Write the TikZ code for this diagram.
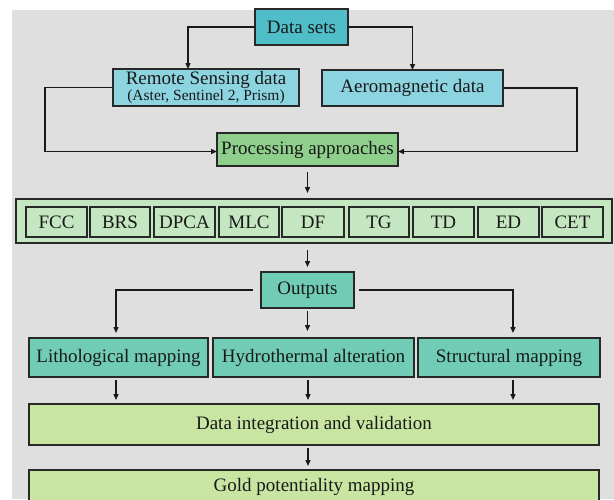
\documentclass[tikz,border=0pt]{standalone}
\usepackage{fontspec}
\setmainfont{Liberation Serif}
\usetikzlibrary{arrows.meta}
\definecolor{bggrey}{RGB}{223,223,223}
\definecolor{dsteal}{RGB}{80,190,200}
\definecolor{lcyan}{RGB}{140,212,224}
\definecolor{pgreen}{RGB}{143,207,140}
\definecolor{sgreen}{RGB}{196,230,192}
\definecolor{aqua}{RGB}{112,204,180}
\definecolor{ygreen}{RGB}{200,230,162}
\definecolor{edge}{RGB}{40,40,40}
\definecolor{ink}{RGB}{25,25,25}
\tikzset{
  box/.style={draw=edge, line width=1.7pt, inner sep=0pt, outer sep=0pt, text=ink,
    font=\fontsize{19}{19}\selectfont},
  smallbox/.style={box, minimum height=30pt, fill=sgreen, line width=1.5pt},
  arr/.style={draw=ink, line width=1.4pt, -{Triangle[length=6pt,width=5pt]}},
  ln/.style={draw=ink, line width=1.4pt}
}
\begin{document}
\begin{tikzpicture}[x=1pt,y=-1pt]
\useasboundingbox (0,0) rectangle (614,499);
\fill[bggrey] (12,10) rectangle (614,499);

% top boxes
\node[box, fill=dsteal, minimum width=93pt, minimum height=36pt] (ds) at (301.5,27) {Data sets};
\node[box, fill=lcyan, minimum width=186pt, minimum height=37pt, align=center,
      font=\fontsize{19}{16}\selectfont] (rs) at (206,87.5)
      {Remote Sensing data\\{\fontsize{15.5}{16}\selectfont (Aster, Sentinel 2, Prism)}};
\node[box, fill=lcyan, minimum width=181pt, minimum height=36pt] (ae) at (412.5,88) {Aeromagnetic data};
\node[box, fill=pgreen, minimum width=181pt, minimum height=33pt] (pa) at (307.5,149.5) {Processing approaches};

% strip
\node[box, fill=sgreen, minimum width=596pt, minimum height=44pt, line width=2.2pt] (st) at (314,221) {};
\node[smallbox, minimum width=61pt] (fcc) at (56.5,222) {FCC};
\node[smallbox, minimum width=60pt] (brs) at (120,222) {BRS};
\node[smallbox, minimum width=61pt] (dpca) at (184.5,222) {DPCA};
\node[smallbox, minimum width=60pt] (mlc) at (249,222) {MLC};
\node[smallbox, minimum width=62pt] (df) at (313,222) {DF};
\node[smallbox, minimum width=60pt] (tg) at (379,222) {TG};
\node[smallbox, minimum width=61pt] (td) at (443.5,222) {TD};
\node[smallbox, minimum width=61pt] (ed) at (508.5,222) {ED};
\node[smallbox, minimum width=61pt] (cet) at (572.5,222) {CET};

% outputs
\node[box, fill=aqua, minimum width=93pt, minimum height=36pt] (out) at (307.5,290) {Outputs};
\node[box, fill=aqua, minimum width=179pt, minimum height=39pt] (lith) at (118.5,357.5) {Lithological mapping};
\node[box, fill=aqua, minimum width=201pt, minimum height=39pt] (hy) at (313.5,357.5) {Hydrothermal alteration};
\node[box, fill=aqua, minimum width=182pt, minimum height=39pt] (sm) at (509,357.5) {Structural mapping};

\node[box, fill=ygreen, minimum width=570pt, minimum height=41pt] (di) at (314,424.5) {Data integration and validation};
\node[box, fill=ygreen, minimum width=570pt, minimum height=34pt] (gm) at (314,487) {Gold potentiality mapping};

% helper coordinates
\coordinate (k1) at (188,0);
\coordinate (k2) at (116,0);
\coordinate (k3) at (513,0);
\coordinate (k4) at (308,0);

% connectors
\draw[arr] (ds.west) -| (rs.north -| k1);
\draw[arr] (ds.east) -| (ae.north);
\draw[arr] (rs.west) -- ++(-68,0) |- ([yshift=-2pt]pa.west);
\draw[arr] (ae.east) -- ++(74,0) |- ([yshift=-2pt]pa.east);
\draw[arr, shorten <=6pt, shorten >=6pt] (pa.south) -- (pa.south |- st.north);
\draw[arr, shorten <=7pt, shorten >=5pt] (out.north |- st.south) -- (out.north);
\draw[arr, shorten <=8pt, shorten >=5pt] (out.west) -| (lith.north -| k2);
\draw[arr, shorten <=5pt, shorten >=5pt] (out.east) -| (sm.north -| k3);
\draw[arr, shorten <=3pt, shorten >=7pt] (out.south) -- (out.south |- hy.north);
\draw[arr, shorten <=3pt, shorten >=4pt] (lith.south -| k2) -- (di.north -| k2);
\draw[arr, shorten <=3pt, shorten >=4pt] (hy.south -| k4) -- (di.north -| k4);
\draw[arr, shorten <=3pt, shorten >=4pt] (sm.south -| k3) -- (di.north -| k3);
\draw[arr, shorten <=3pt, shorten >=4pt] (di.south -| k4) -- (gm.north -| k4);
\end{tikzpicture}
\end{document}
